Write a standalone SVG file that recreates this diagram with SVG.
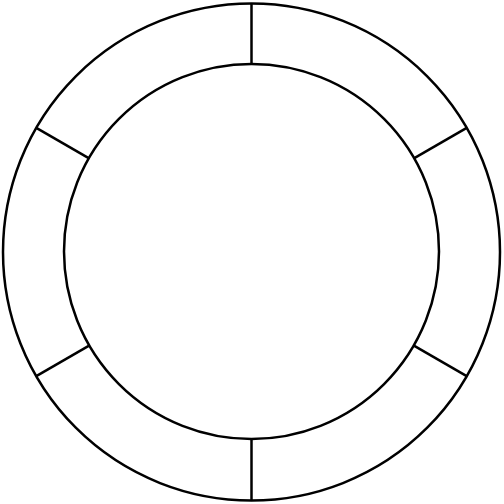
<svg xmlns="http://www.w3.org/2000/svg" width="504" height="504" viewBox="0 0 504 504">
<style>.s{fill:none;stroke:#000;stroke-width:2.5}</style>
<rect width="504" height="504" fill="#fff"/>
<g id="ring">
<circle class="s" cx="251.5" cy="252" r="248.5"/>
<circle class="s" cx="251.5" cy="251.5" r="187.5"/>
</g>
<g id="connectors" class="s">
<line x1="251.5" y1="3.5" x2="251.5" y2="64"/>
<line x1="251.5" y1="500.5" x2="251.5" y2="439"/>
<line x1="466.7" y1="127.8" x2="413.9" y2="158.3"/>
<line x1="36.3" y1="127.8" x2="89.1" y2="158.3"/>
<line x1="466.7" y1="376.2" x2="413.9" y2="345.7"/>
<line x1="36.3" y1="376.2" x2="89.1" y2="345.7"/>
</g>
</svg>
